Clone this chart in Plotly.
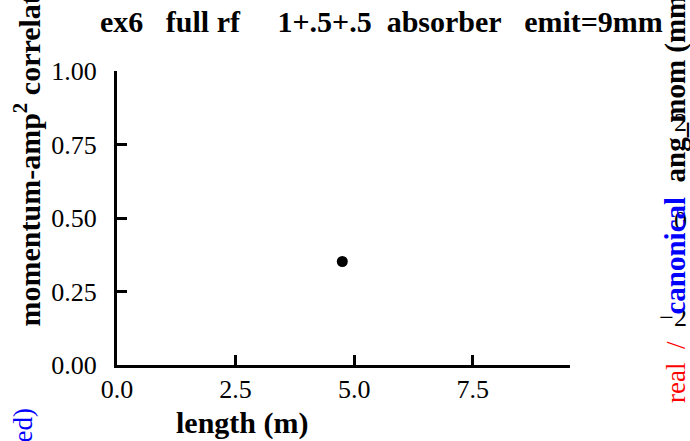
import plotly.graph_objects as go

# Correlation value along the channel
length_m = [4.75]
correlation = [0.352]

x_tickvals = [0.0, 2.5, 5.0, 7.5]
x_ticktext = ["0.0", "2.5", "5.0", "7.5"]
y_tickvals = [0.0, 0.25, 0.50, 0.75, 1.00]
y_ticktext = ["0.00", "0.25", "0.50", "0.75", "1.00"]
y2_tickvals = [2, 0, -2]

W, H = 690, 441
ML, MR, MT, MB = 117, 0, 71, 76
PW, PH = W - ML - MR, H - MT - MB


def px_x(x):
    return (x - ML) / PW


def px_y(y):
    return (H - MB - y) / PH


serif = "Liberation Serif"
tick_font = dict(family=serif, size=26, color="black")

fig = go.Figure()
fig.add_trace(go.Scatter(
    x=length_m, y=correlation, mode="markers",
    marker=dict(color="black", size=11),
    showlegend=False, cliponaxis=False,
))
# empty trace carrying the angular-momentum axis
fig.add_trace(go.Scatter(x=[None], y=[None], yaxis="y2", showlegend=False))

fig.update_layout(
    width=W, height=H,
    margin=dict(l=ML, r=MR, t=MT, b=MB, autoexpand=False),
    paper_bgcolor="white", plot_bgcolor="white",
    xaxis=dict(
        domain=[0, (570 - ML) / PW], range=[0, 9.55],
        tickvals=x_tickvals, ticktext=x_ticktext, tickfont=tick_font,
        ticks="inside", ticklen=10, tickwidth=3, tickcolor="black",
        showline=True, linewidth=3, linecolor="black",
        showgrid=False, zeroline=False, ticklabelstandoff=-1,
    ),
    yaxis=dict(
        range=[0, 1],
        tickvals=y_tickvals, ticktext=y_ticktext, tickfont=tick_font,
        ticks="inside", ticklen=10, tickwidth=3, tickcolor="black",
        showline=True, linewidth=3, linecolor="black",
        showgrid=False, zeroline=False, ticklabelstandoff=12,
    ),
    yaxis2=dict(
        overlaying="y", side="right", anchor="free", position=1,
        range=[-2.98, 3.04], tickvals=y2_tickvals, tickfont=tick_font,
        ticklabelposition="inside", ticks="", showline=False, tickangle=0,
        showgrid=False, zeroline=False,
    ),
)

nb = "\u00a0"

fig.add_annotation(
    text="<b>ex6" + nb * 3 + "full rf" + nb * 5 + "1+.5+.5" + nb * 2 + "absorber" + nb * 3 + "emit=9mm</b>",
    xref="paper", yref="paper", x=px_x(98), y=px_y(21),
    xanchor="left", yanchor="middle", showarrow=False,
    font=dict(family=serif, size=30, color="black"),
)
fig.add_annotation(
    text="<b>length (m)</b>",
    xref="paper", yref="paper", x=px_x(242), y=px_y(423),
    xanchor="center", yanchor="middle", showarrow=False,
    font=dict(family=serif, size=30, color="black"),
)
fig.add_annotation(
    text="<b>momentum-amp<sup>2</sup> correlation</b>",
    xref="paper", yref="paper", x=px_x(27), y=px_y(329), textangle=-90,
    xanchor="center", yanchor="bottom", showarrow=False,
    font=dict(family=serif, size=30, color="black"),
)
fig.add_annotation(
    text="(normalized)",
    xref="paper", yref="paper", x=px_x(22), y=px_y(407), textangle=-90,
    xanchor="center", yanchor="top", showarrow=False,
    font=dict(family=serif, size=27, color="blue"),
)
fig.add_annotation(
    text=("<span style='color:red'>real" + nb * 2 + "/" + nb * 4 + "</span>"
          + "<b><span style='font-size:29px'><span style='color:blue'>canonical</span>"
          + nb * 2 + "ang_mom" + nb + "(mm)</span></b>"),
    xref="paper", yref="paper", x=px_x(675), y=px_y(405), textangle=-90,
    xanchor="center", yanchor="bottom", showarrow=False,
    font=dict(family=serif, size=27, color="black"),
)

fig.write_html("out.html")
